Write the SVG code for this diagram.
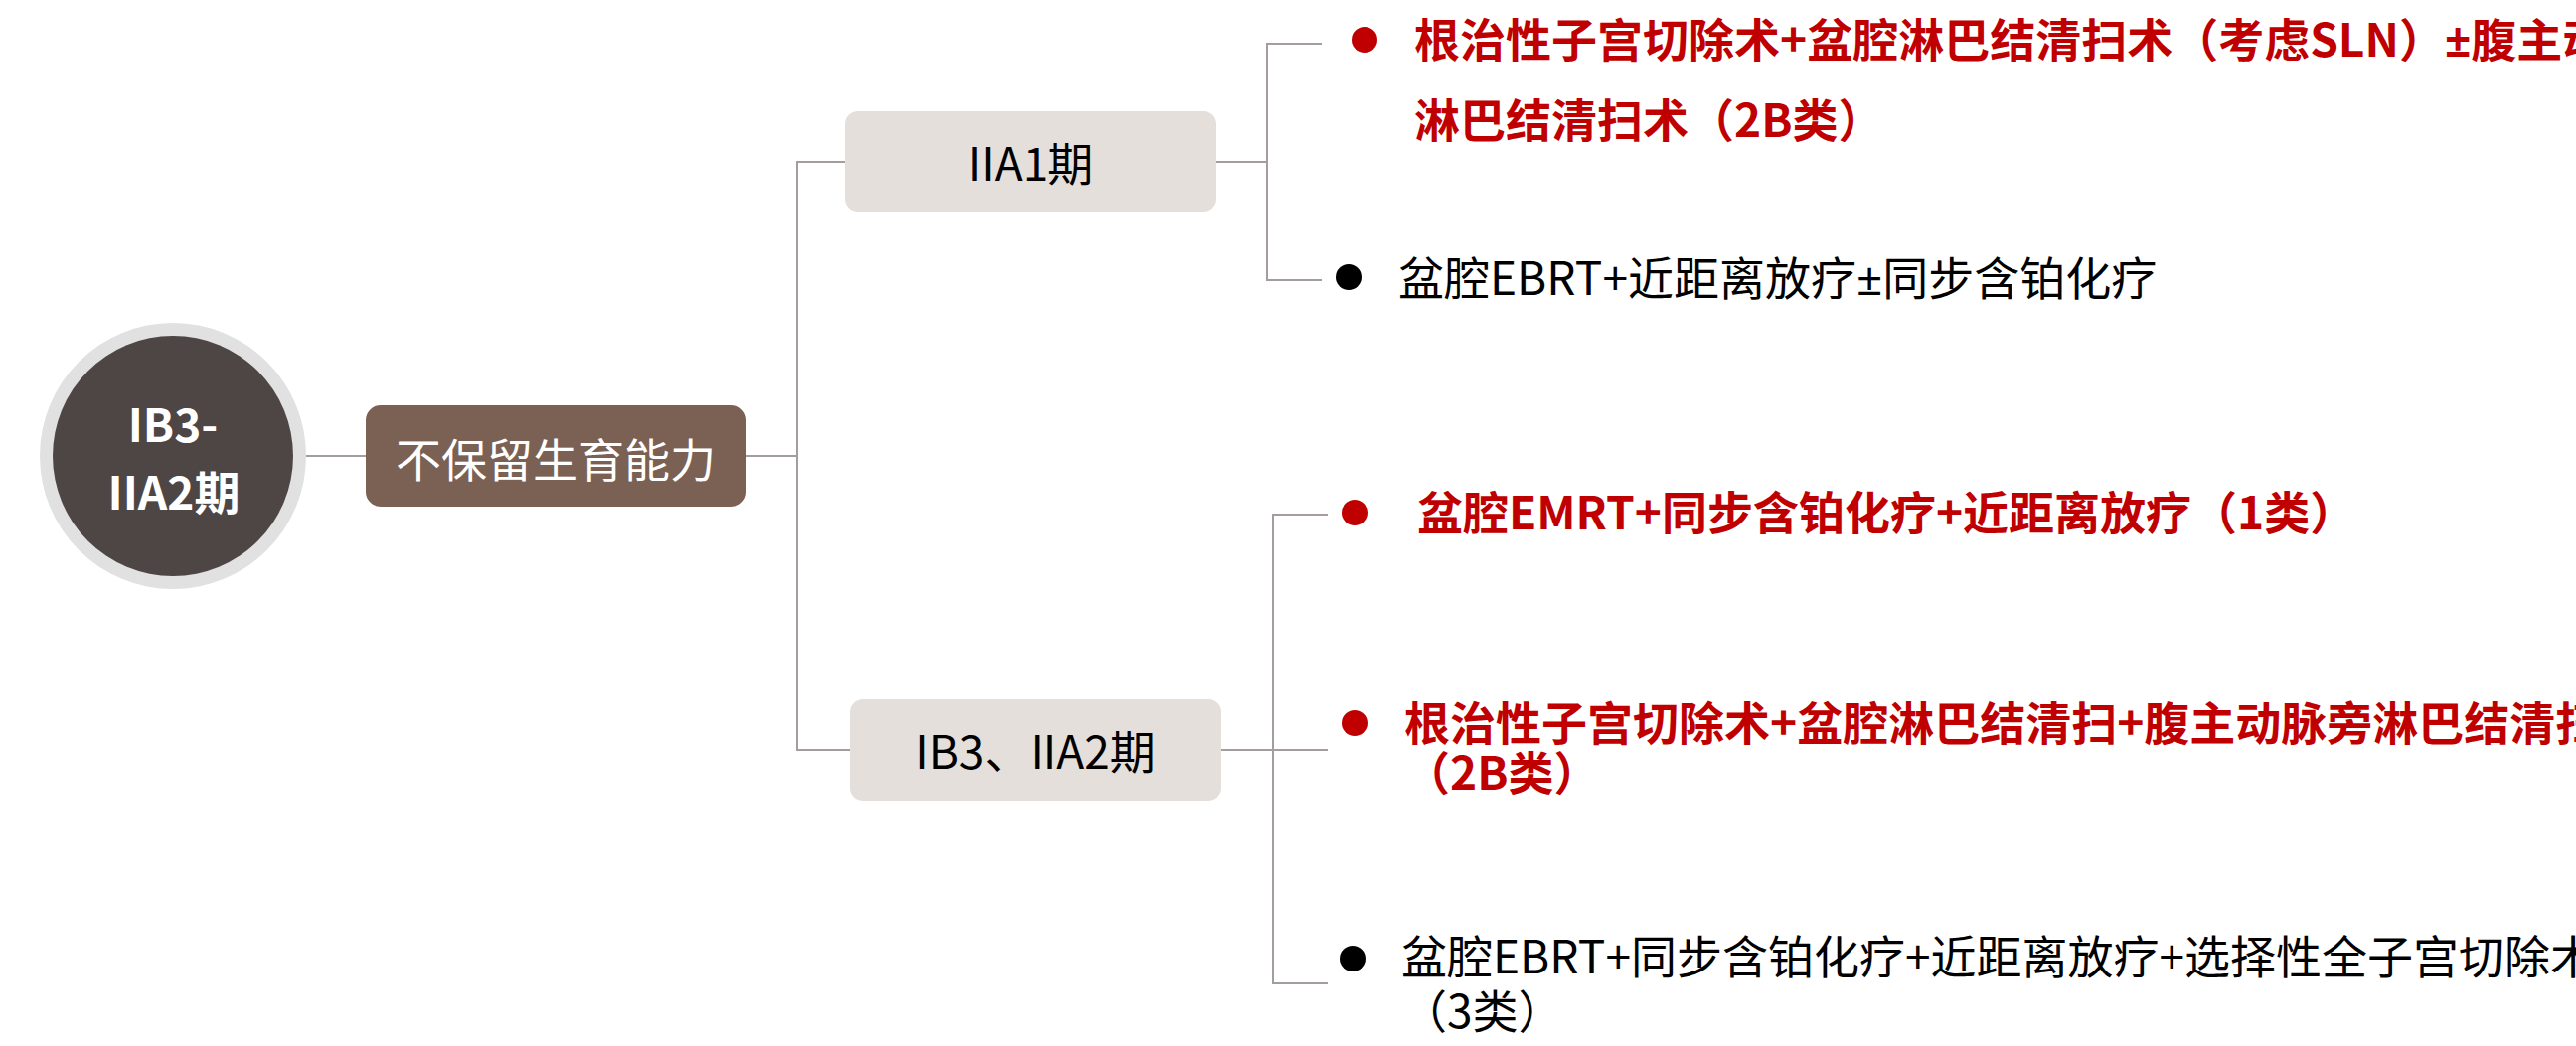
<svg xmlns="http://www.w3.org/2000/svg" width="2592" height="1053" viewBox="0 0 2592 1053">
<style>
.conn{fill:none;stroke:#a39d9d;stroke-width:2}
.t{font-family:"Noto Sans CJK SC","Noto Sans",sans-serif;font-size:46px}
.pm{font-family:"Noto Sans","DejaVu Sans",sans-serif}
.b{font-weight:bold}
.red{fill:#c00000}
.blk{fill:#000000}
.wht{fill:#ffffff}
.light{fill:#e4dfdb}
</style>
<rect width="2592" height="1053" fill="#ffffff"/>
<g id="connectors">
<path class="conn" d="M308 459 H368"/>
<path class="conn" d="M751 459 H802"/>
<path class="conn" d="M850 163 H802 V755 H855"/>
<path class="conn" d="M1224 163 H1275"/>
<path class="conn" d="M1330 44 H1275 V282 H1330"/>
<path class="conn" d="M1229 755 H1336"/>
<path class="conn" d="M1336 518 H1281 V990 H1336"/>
</g>
<g id="root">
<circle cx="174" cy="459" r="134" fill="#e1e1e1"/>
<circle cx="174" cy="459" r="121" fill="#4d4645"/>
<text class="t b wht" x="174" y="445" text-anchor="middle" font-size="48">IB3-</text>
<text class="t b wht" x="175" y="513" text-anchor="middle" font-size="48">IIA2期</text>
</g>
<g id="no-fertility">
<rect x="368" y="408" width="383" height="102" rx="15" fill="#7a6154"/>
<text class="t wht" x="559" y="480" text-anchor="middle">不保留生育能力</text>
</g>
<g id="iia1">
<rect class="light" x="850" y="112" width="374" height="101" rx="13"/>
<text class="t blk" x="1037" y="182" text-anchor="middle">IIA1期</text>
</g>
<g id="ib3-iia2">
<rect class="light" x="855" y="704" width="374" height="102" rx="13"/>
<text class="t blk" x="1042" y="774" text-anchor="middle">IB3、IIA2期</text>
</g>
<g id="iia1-opt1">
<circle class="red" cx="1373" cy="40" r="13"/>
<text class="t b red" x="1423" y="57">根治性子宫切除术+盆腔淋巴结清扫术（考虑SLN）<tspan class="pm">±</tspan>腹主动</text>
<text class="t b red" x="1423" y="138">淋巴结清扫术（2B类）</text>
</g>
<g id="iia1-opt2">
<circle class="blk" cx="1357" cy="279" r="13"/>
<text class="t blk" x="1407" y="297">盆腔EBRT+近距离放疗<tspan class="pm">±</tspan>同步含铂化疗</text>
</g>
<g id="ib3-opt1">
<circle class="red" cx="1363" cy="516" r="13"/>
<text class="t b red" x="1426" y="533">盆腔EMRT+同步含铂化疗+近距离放疗（1类）</text>
</g>
<g id="ib3-opt2">
<circle class="red" cx="1363" cy="728" r="13"/>
<text class="t b red" x="1413" y="745">根治性子宫切除术+盆腔淋巴结清扫+腹主动脉旁淋巴结清扫</text>
<text class="t b red" x="1413" y="795">（2B类）</text>
</g>
<g id="ib3-opt3">
<circle class="blk" cx="1361" cy="965" r="13"/>
<text class="t blk" x="1410" y="980">盆腔EBRT+同步含铂化疗+近距离放疗+选择性全子宫切除术</text>
<text class="t blk" x="1410" y="1035">（3类）</text>
</g>
</svg>
